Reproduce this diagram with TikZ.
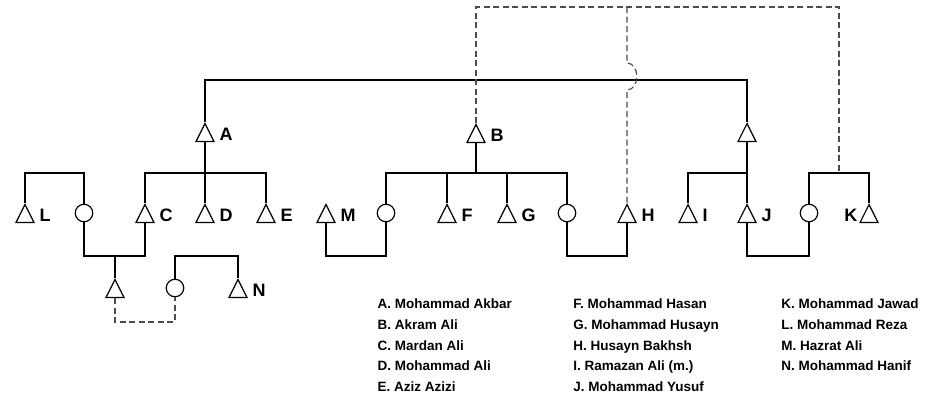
\documentclass[tikz,border=0pt]{standalone}
\usepackage{fontspec}
\setmainfont{Liberation Sans}
\usetikzlibrary{shapes.geometric,calc}

\begin{document}
\begin{tikzpicture}[x=1pt,y=-1pt,
  line width=1.2pt, color=black,
  tri/.style={draw, isosceles triangle, shape border rotate=90,
    isosceles triangle stretches, minimum width=18pt, minimum height=18pt,
    inner sep=0pt, anchor=apex},
  fem/.style={draw, circle, minimum size=17.5pt, inner sep=0pt},
  tag/.style={font=\fontsize{18}{18}\selectfont\bfseries, inner sep=0pt},
  legend/.style={font=\fontsize{13.5}{13.5}\selectfont\bfseries, inner sep=0pt, anchor=base west},
  adopt/.style={dash pattern=on 6pt off 3.5pt, black!70},
]
\useasboundingbox (0,0) rectangle (934,400);

% helper rows
\coordinate (top)  at (0,80);
\coordinate (rowS) at (0,173);
\coordinate (rowM) at (0,256);
\coordinate (rowD) at (0,322);

% first generation (placed by their apex)
\node[tri] (A)  at (205,122) {};
\node[tri] (B)  at (476,123) {};
\node[tri] (Jf) at (747,122) {};

% second generation
\node[tri] (L)  at (25,203)  {};
\node[fem] (wL) at (84,213)  {};
\node[tri] (C)  at (145,203) {};
\node[tri] (D)  at (205,203) {};
\node[tri] (E)  at (266,203) {};
\node[tri] (M)  at (326,203) {};
\node[fem] (wM) at (386,213) {};
\node[tri] (F)  at (447,203) {};
\node[tri] (G)  at (507,203) {};
\node[fem] (wH) at (567,213) {};
\node[tri] (H)  at (627,203) {};
\node[tri] (I)  at (688,203) {};
\node[tri] (J)  at (747,203) {};
\node[fem] (wJ) at (809,213) {};
\node[tri] (K)  at (869,203) {};

% third generation
\node[tri] (Nc) at (115,278) {};
\node[fem] (wN) at (175,288) {};
\node[tri] (N)  at (238,278) {};

% letter tags
\tikzset{tagR/.style={tag, anchor=west}, tagL/.style={tag, anchor=east}}
\node[tagR] (tA) at ([xshift=14pt,yshift=-12.5pt]A.apex) {A};
\node[tagR] (tB) at ([xshift=14pt,yshift=-12.5pt]B.apex) {B};
\node[tagR] (tL) at ([xshift=14pt,yshift=-12.5pt]L.apex) {L};
\node[tagR] (tC) at ([xshift=14pt,yshift=-12.5pt]C.apex) {C};
\node[tagR] (tD) at ([xshift=14pt,yshift=-12.5pt]D.apex) {D};
\node[tagR] (tE) at ([xshift=14pt,yshift=-12.5pt]E.apex) {E};
\node[tagR] (tM) at ([xshift=14pt,yshift=-12.5pt]M.apex) {M};
\node[tagR] (tF) at ([xshift=14pt,yshift=-12.5pt]F.apex) {F};
\node[tagR] (tG) at ([xshift=14pt,yshift=-12.5pt]G.apex) {G};
\node[tagR] (tH) at ([xshift=14pt,yshift=-12.5pt]H.apex) {H};
\node[tagR] (tI) at ([xshift=14pt,yshift=-12.5pt]I.apex) {I};
\node[tagR] (tJ) at ([xshift=14pt,yshift=-12.5pt]J.apex) {J};
\node[tagL] (tK) at ([xshift=-11pt,yshift=-12.5pt]K.apex) {K};
\node[tagR] (tN) at ([xshift=14pt,yshift=-12.5pt]N.apex) {N};

% brothers: A and the father of I and J
\draw (A.apex) -- (A.apex |- top) -| (Jf.apex);

% children of A; L married to wL
\draw (C.apex) |- (E.apex |- rowS) -- (E.apex);
\draw (A.south) -- (D.apex);
\draw (L.apex) |- (wL.north |- rowS) -- (wL.north);
\draw (wL.south) |- (C.south |- rowM) -- (C.south);
\draw (Nc.apex |- rowM) -- (Nc.apex);
\draw (wN.north) |- (N.apex |- rowM) -- (N.apex);
\draw[adopt] (Nc.south) |- (wN.south |- rowD) -- (wN.south);

% children of B
\draw (wM.north) |- (wH.north |- rowS) -- (wH.north);
\draw (B.south) -- (B.south |- rowS);
\draw (F.apex |- rowS) -- (F.apex);
\draw (G.apex |- rowS) -- (G.apex);
\draw (M.south) |- (wM.south |- rowM) -- (wM.south);
\draw (wH.south) |- (H.south |- rowM) -- (H.south);

% children of the third brother
\draw (I.apex) |- (J.apex |- rowS) -- (J.apex);
\draw (Jf.south) -- (J.apex);
\draw (J.south) |- (wJ.south |- rowM) -- (wJ.south);
\draw (wJ.north) |- (K.apex |- rowS) -- (K.apex);

% dashed links over the top
\coordinate (ktop) at (839,7);
\coordinate (kmar) at (839,173);
\coordinate (hopA) at (627,63);
\coordinate (hopB) at (627,90);
\draw[adopt] (B.apex) |- (ktop) -- (kmar);
\draw[adopt] (H.apex |- ktop) -- (hopA)
  .. controls (640,63) and (640,90) .. (hopB) -- (H.apex);

% key
\node[legend] (k1)  at (377,308.5) {A. Mohammad Akbar};
\node[legend] (k2)  at (377,329.3) {B. Akram Ali};
\node[legend] (k3)  at (377,350)   {C. Mardan Ali};
\node[legend] (k4)  at (377,370.8) {D. Mohammad Ali};
\node[legend] (k5)  at (377,391.6) {E. Aziz Azizi};
\node[legend] (k6)  at (572.7,308.5) {F. Mohammad Hasan};
\node[legend] (k7)  at (572.7,329.3) {G. Mohammad Husayn};
\node[legend] (k8)  at (572.7,350)   {H. Husayn Bakhsh};
\node[legend] (k9)  at (572.7,370.8) {I. Ramazan Ali (m.)};
\node[legend] (k10) at (572.7,391.6) {J. Mohammad Yusuf};
\node[legend] (k11) at (780.7,308.5) {K. Mohammad Jawad};
\node[legend] (k12) at (780.7,329.3) {L. Mohammad Reza};
\node[legend] (k13) at (780.7,350)   {M. Hazrat Ali};
\node[legend] (k14) at (780.7,370.8) {N. Mohammad Hanif};
\end{tikzpicture}
\end{document}
